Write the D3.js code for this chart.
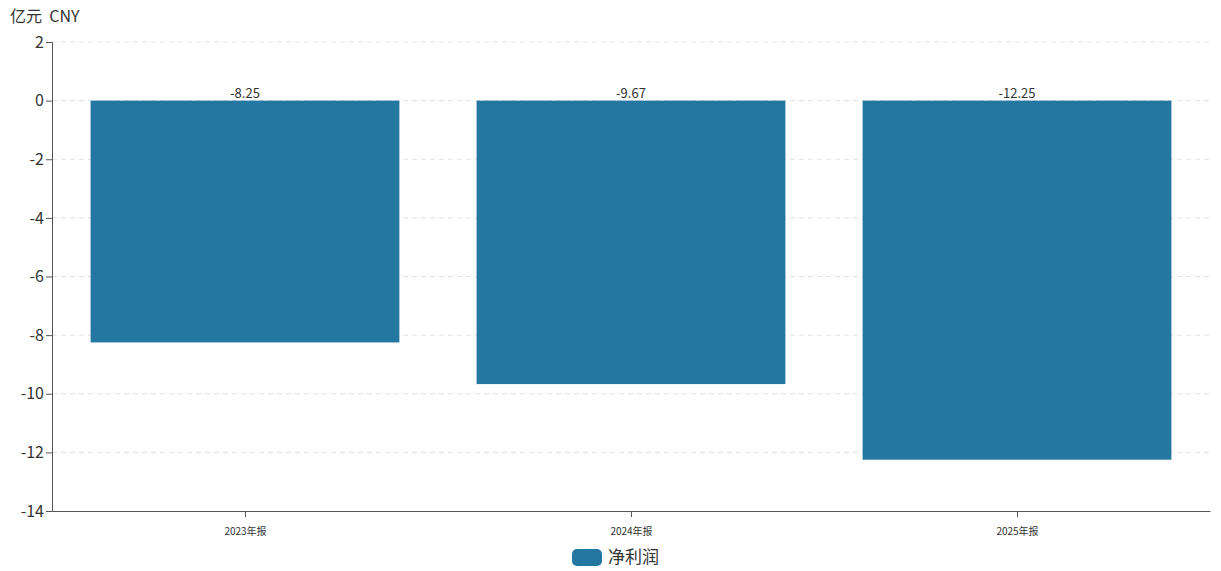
<!DOCTYPE html>
<html>
<head>
<meta charset="utf-8">
<script src="https://cdn.jsdelivr.net/npm/d3@7"></script>
<style>
  body { margin: 0; background: #fff; font-family: "Noto Sans CJK SC", "Noto Sans", sans-serif; }
</style>
</head>
<body>
<div id="chart"></div>
<script>
const categories = ['2023年报', '2024年报', '2025年报'];
const netProfit = [-8.25, -9.67, -12.25];
const yTicks = [2, 0, -2, -4, -6, -8, -10, -12, -14];

(function() {
'use strict';

const W = 1221, H = 571;
const PAD_L = 52, PAD_R = 1210, PAD_T = 42, PAD_B = 511;
const barColor = '#2477a0';
const font = '"Noto Sans CJK SC", "Noto Sans", sans-serif';

const svg = d3.select('#chart').append('svg').attr('width', W).attr('height', H);

const x = d3.scaleBand().domain(categories).range([PAD_L, PAD_R])
  .paddingInner(0.2).paddingOuter(0.1);
const xc = d3.scalePoint().domain(categories).range([PAD_L, PAD_R]).padding(0.5);
const y = d3.scaleLinear().domain([-14, 2]).range([PAD_B, PAD_T]);

// grid
svg.append('g').selectAll('line').data(yTicks.filter(t => t !== -14)).enter().append('line')
  .attr('x1', PAD_L).attr('x2', PAD_R)
  .attr('y1', d => y(d)).attr('y2', d => y(d))
  .attr('stroke', '#dde1e6').attr('stroke-dasharray', '5,4');

// bars
svg.append('g').selectAll('rect').data(netProfit).enter().append('rect')
  .attr('x', (d, i) => x(categories[i]))
  .attr('width', x.bandwidth())
  .attr('y', y(0))
  .attr('height', d => y(d) - y(0))
  .attr('fill', barColor);

// value labels
svg.append('g').selectAll('text').data(netProfit).enter().append('text')
  .attr('x', (d, i) => xc(categories[i]))
  .attr('y', y(0) - 3)
  .attr('text-anchor', 'middle')
  .attr('font-size', 13).attr('fill', '#333')
  .text(d => d.toFixed(2));

// y axis
const yAxis = d3.axisLeft(y).tickValues(yTicks).tickSize(6).tickPadding(2)
  .tickFormat(d => String(d));
const gy = svg.append('g').attr('transform', `translate(${PAD_L},0)`).call(yAxis);
gy.select('.domain').attr('stroke', '#555');
gy.selectAll('.tick line').attr('stroke', '#555');
gy.selectAll('.tick text').attr('font-size', 16).attr('fill', '#333').attr('font-family', font);

// x axis
const xAxis = d3.axisBottom(xc).tickSize(6).tickSizeOuter(0).tickPadding(11);
const gx = svg.append('g').attr('transform', `translate(0,${PAD_B})`).call(xAxis);
gx.select('.domain').attr('stroke', '#555');
gx.selectAll('.tick line').attr('stroke', '#555');
gx.selectAll('.tick text').attr('font-size', 10).attr('fill', '#333').attr('font-family', font);

// unit label
svg.append('text').attr('x', 10).attr('y', 22)
  .attr('font-size', 16).attr('fill', '#333')
  .style('white-space', 'pre')
  .text('亿元  CNY');

// legend
const lg = svg.append('g').attr('transform', 'translate(572,549)');
lg.append('rect').attr('width', 30).attr('height', 17).attr('rx', 5).attr('fill', barColor);
lg.append('text').attr('x', 36).attr('y', 14).attr('font-size', 17).attr('fill', '#333').text('净利润');
})();
</script>
</body>
</html>
